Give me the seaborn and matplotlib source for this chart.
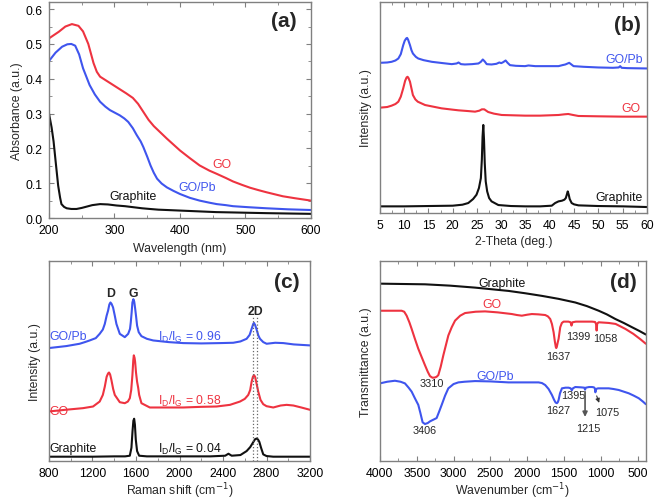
import numpy as np
import pandas as pd
import seaborn as sns
import matplotlib.pyplot as plt
from matplotlib.ticker import MultipleLocator

RED = '#ee3340'
BLUE = '#3f55ee'
BLACK = '#111111'

# (a) UV-vis absorbance
uv_go_x = [200, 215, 225, 235, 245, 252, 260, 268, 273, 278, 288, 298, 308, 318, 328, 336, 344, 352, 360, 370, 380, 390, 400, 415, 430, 445, 456, 470, 481, 495, 507, 520, 532, 545, 557, 575, 600]
uv_go_y = [0.516, 0.535, 0.550, 0.557, 0.552, 0.536, 0.500, 0.445, 0.420, 0.406, 0.394, 0.382, 0.370, 0.358, 0.345, 0.328, 0.305, 0.282, 0.264, 0.246, 0.228, 0.211, 0.194, 0.172, 0.151, 0.136, 0.127, 0.115, 0.105, 0.095, 0.087, 0.080, 0.074, 0.068, 0.0625, 0.057, 0.050]
uv_gopb_x = [200, 210, 220, 228, 234, 240, 246, 252, 262, 270, 278, 286, 293, 300, 308, 315, 321, 328, 334, 340, 344, 350, 355, 360, 365, 372, 380, 390, 400, 415, 430, 445, 456, 470, 481, 505, 532, 565, 600]
uv_gopb_y = [0.451, 0.475, 0.492, 0.499, 0.500, 0.495, 0.470, 0.430, 0.382, 0.355, 0.334, 0.320, 0.310, 0.303, 0.295, 0.286, 0.276, 0.258, 0.238, 0.220, 0.204, 0.176, 0.151, 0.130, 0.113, 0.099, 0.088, 0.078, 0.069, 0.058, 0.050, 0.044, 0.040, 0.037, 0.034, 0.031, 0.028, 0.025, 0.023]
uv_gr_x = [200, 204, 207, 210, 214, 217, 219, 223, 227, 234, 242, 250, 258, 266, 278, 290, 303, 316, 329, 342, 354, 367, 380, 405, 430, 455, 481, 506, 532, 565, 600]
uv_gr_y = [0.300, 0.260, 0.220, 0.165, 0.093, 0.058, 0.040, 0.032, 0.028, 0.026, 0.026, 0.029, 0.033, 0.037, 0.040, 0.039, 0.036, 0.034, 0.031, 0.028, 0.026, 0.024, 0.023, 0.021, 0.019, 0.017, 0.016, 0.015, 0.014, 0.013, 0.012]

# (b) XRD patterns
xrd_gr_x = [5, 10, 15, 20, 22, 23.2, 24.2, 24.9, 25.4, 25.8, 26.0, 26.15, 26.3, 26.45, 26.6, 26.8, 27.1, 27.5, 28.0, 29.4, 32, 35, 38, 40.4, 41.1, 41.8, 42.5, 43.0, 43.3, 43.5, 43.7, 43.9, 44.1, 44.5, 45.0, 45.9, 50, 55, 60]
xrd_gr_y = [20, 20, 21, 22, 25, 30, 42, 55, 75, 105, 160, 230, 265, 220, 150, 95, 65, 45, 35, 24, 21, 20, 20, 22, 30, 35, 37, 40, 45, 55, 65, 55, 42, 30, 26, 23, 21, 20, 18]
xrd_go_x = [5, 6.5, 7.4, 8.2, 8.8, 9.3, 9.8, 10.2, 10.5, 10.7, 10.9, 11.2, 11.5, 11.8, 12.3, 12.8, 14.3, 16, 17.7, 20, 21.2, 23, 24.6, 25.5, 26.0, 26.5, 27.3, 28.5, 30.1, 34.9, 38, 41.8, 43.0, 43.8, 44.8, 45.9, 50, 55, 60]
xrd_go_y = [317, 319, 323, 328, 335, 350, 375, 398, 408, 410, 406, 395, 375, 355, 342, 335, 325, 320, 315, 311, 309, 307, 305, 308, 312, 312, 304, 299, 295, 293, 293, 295, 297, 298, 295, 292, 291, 290, 290]
xrd_gopb_x = [5, 6.5, 7.4, 8.2, 8.8, 9.3, 9.8, 10.1, 10.4, 10.6, 10.8, 11.2, 11.5, 11.8, 12.4, 12.9, 14, 15.7, 18, 19.8, 20.8, 21.2, 21.7, 22.5, 24, 25.3, 25.8, 26.2, 26.6, 27.0, 28, 29.0, 29.6, 30.0, 30.4, 30.9, 31.3, 31.8, 33, 34.9, 35.6, 37, 40, 41.8, 42.6, 43.2, 44.0, 44.9, 47, 50, 53, 54.2, 54.5, 54.8, 56, 60]
xrd_gopb_y = [452, 453, 455, 459, 465, 478, 505, 518, 525, 527, 522, 505, 490, 480, 470, 465, 460, 455, 451, 448, 450, 453, 448, 447, 448, 450, 455, 462, 456, 448, 447, 449, 453, 451, 454, 459, 452, 445, 443, 442, 444, 442, 442, 442, 445, 447, 452, 442, 440, 438, 437, 438, 442, 437, 436, 435]

# (c) Raman spectra
ram_gr_x = [800, 1000, 1200, 1400, 1500, 1543, 1558, 1568, 1576, 1583, 1590, 1598, 1610, 1629, 1700, 2000, 2285, 2420, 2450, 2480, 2560, 2617, 2650, 2678, 2695, 2709, 2722, 2734, 2750, 2770, 2800, 2862, 3000, 3200]
ram_gr_y = [13, 13, 13, 14, 14, 16, 40, 90, 122, 128, 110, 65, 30, 16, 14, 14, 14, 16, 22, 16, 18, 30, 42, 57, 66, 68, 65, 58, 40, 20, 15, 13, 13, 13]
ram_go_x = [800, 950, 1113, 1205, 1266, 1295, 1313, 1330, 1343, 1352, 1362, 1374, 1390, 1405, 1451, 1497, 1525, 1543, 1556, 1567, 1575, 1580, 1587, 1592, 1600, 1610, 1620, 1629, 1650, 1727, 1900, 2034, 2200, 2341, 2464, 2556, 2600, 2632, 2650, 2663, 2675, 2685, 2695, 2705, 2724, 2745, 2770, 2800, 2862, 2930, 2985, 3047, 3120, 3200]
ram_go_y = [150, 155, 160, 165, 180, 200, 225, 255, 265, 268, 262, 245, 218, 200, 178, 175, 180, 190, 215, 260, 305, 320, 312, 300, 268, 240, 222, 200, 175, 162, 162, 162, 164, 165, 170, 180, 188, 200, 215, 240, 255, 260, 255, 240, 210, 185, 172, 166, 162, 168, 170, 168, 162, 155]
ram_gopb_x = [800, 960, 1082, 1130, 1174, 1230, 1266, 1295, 1313, 1330, 1343, 1355, 1365, 1375, 1389, 1405, 1420, 1451, 1497, 1528, 1545, 1552, 1560, 1567, 1576, 1584, 1592, 1600, 1610, 1625, 1650, 1700, 1758, 1900, 2034, 2200, 2372, 2494, 2560, 2617, 2645, 2663, 2678, 2685, 2695, 2709, 2725, 2740, 2770, 2801, 2880, 2955, 3050, 3200]
ram_gopb_y = [342, 348, 355, 360, 365, 372, 385, 398, 415, 440, 455, 474, 480, 476, 465, 440, 415, 385, 375, 385, 400, 420, 450, 480, 490, 482, 462, 440, 410, 390, 378, 370, 365, 360, 357, 356, 357, 358, 362, 370, 382, 400, 415, 418, 412, 398, 380, 370, 360, 355, 358, 357, 353, 350]

# (d) FTIR spectra
ir_gr_x = [4000, 3700, 3388, 3050, 2708, 2480, 2254, 2030, 1801, 1575, 1348, 1190, 1030, 920, 804, 690, 577, 480, 390]
ir_gr_y = [537, 536, 535, 531, 525, 520, 515, 508, 500, 491, 480, 469, 455, 444, 430, 418, 405, 394, 383]
ir_go_x = [4000, 3850, 3705, 3670, 3637, 3600, 3569, 3525, 3479, 3430, 3388, 3350, 3320, 3285, 3252, 3230, 3207, 3175, 3139, 3105, 3071, 3025, 2980, 2910, 2844, 2700, 2572, 2400, 2209, 2140, 2073, 2000, 1937, 1850, 1756, 1720, 1688, 1665, 1642, 1625, 1612, 1606, 1598, 1585, 1574, 1552, 1530, 1506, 1440, 1412, 1399, 1386, 1340, 1200, 1121, 1080, 1066, 1058, 1050, 1030, 960, 894, 800, 668, 560, 460, 390]
ir_go_y = [455, 455, 455, 452, 440, 420, 400, 370, 340, 313, 290, 270, 257, 252, 253, 255, 260, 285, 320, 350, 380, 405, 425, 440, 448, 452, 453, 450, 445, 442, 440, 443, 445, 444, 442, 438, 430, 415, 390, 362, 345, 342, 346, 360, 370, 405, 418, 422, 422, 420, 410, 420, 422, 422, 422, 421, 415, 395, 416, 420, 419, 418, 415, 400, 385, 368, 355]
ir_gopb_x = [4000, 3900, 3796, 3720, 3660, 3610, 3569, 3525, 3479, 3450, 3420, 3388, 3350, 3320, 3275, 3230, 3195, 3161, 3115, 3071, 3000, 2935, 2850, 2708, 2500, 2254, 2050, 1846, 1800, 1756, 1710, 1665, 1635, 1615, 1597, 1585, 1574, 1555, 1529, 1480, 1438, 1410, 1395, 1380, 1348, 1270, 1225, 1215, 1205, 1160, 1121, 1095, 1082, 1075, 1066, 1039, 960, 894, 830, 758, 690, 622, 555, 486, 430, 390]
ir_gopb_y = [235, 240, 243, 240, 235, 222, 210, 190, 170, 145, 117, 112, 115, 120, 125, 130, 150, 170, 198, 220, 233, 238, 240, 242, 241, 238, 238, 238, 236, 230, 218, 200, 185, 177, 175, 178, 185, 205, 220, 222, 222, 220, 214, 220, 224, 223, 222, 216, 222, 224, 224, 223, 220, 208, 218, 220, 220, 220, 218, 215, 210, 205, 198, 190, 180, 172]

sns.set_style("ticks")
plt.rcParams['font.family'] = ['Liberation Sans', 'DejaVu Sans']
plt.rcParams['axes.edgecolor'] = '#808080'
plt.rcParams['axes.linewidth'] = 1.0
plt.rcParams['xtick.color'] = '#808080'
plt.rcParams['ytick.color'] = '#808080'
plt.rcParams['xtick.labelcolor'] = 'black'
plt.rcParams['ytick.labelcolor'] = 'black'

fig = plt.figure(figsize=(6.55, 5.02), dpi=100)
ax_a = fig.add_axes([0.0748, 0.5637, 0.400, 0.430])
ax_b = fig.add_axes([0.580, 0.5737, 0.4076, 0.4203])
ax_c = fig.add_axes([0.0748, 0.0797, 0.3985, 0.398])
ax_d = fig.add_axes([0.580, 0.0797, 0.406, 0.398])

FS = 8.8
LW = 1.5

def draw(ax, x, y, color):
    sns.lineplot(x=x, y=y, ax=ax, color=color, lw=LW, estimator=None, sort=True)

def style(ax, major, minor, labels_y=True, pad=4.5):
    ax.tick_params(which='both', direction='in', top=True, right=True, labelsize=FS)
    ax.tick_params(which='major', length=3.5, width=0.8, pad=pad)
    ax.tick_params(which='minor', length=2, width=0.6)
    ax.xaxis.set_major_locator(MultipleLocator(major))
    ax.xaxis.set_minor_locator(MultipleLocator(minor))
    for s in ax.spines.values():
        s.set_visible(True)
    if not labels_y:
        ax.set_yticks([])

# (a)
draw(ax_a, uv_go_x, uv_go_y, RED)
draw(ax_a, uv_gopb_x, uv_gopb_y, BLUE)
draw(ax_a, uv_gr_x, uv_gr_y, BLACK)
ax_a.set_xlim(200, 600)
ax_a.set_ylim(0, 0.62)
style(ax_a, 100, 50)
ax_a.yaxis.set_major_locator(MultipleLocator(0.1))
ax_a.yaxis.set_minor_locator(MultipleLocator(0.05))
ax_a.set_yticklabels([f'{v:.1f}' for v in ax_a.get_yticks()])
ax_a.set_xlabel('Wavelength (nm)', fontsize=FS, labelpad=4)
ax_a.set_ylabel('Absorbance (a.u.)', fontsize=FS, labelpad=2)
ax_a.text(464, 0.156, 'GO', color=RED, fontsize=FS, ha='center', va='center')
ax_a.text(426, 0.088, 'GO/Pb', color=BLUE, fontsize=FS, ha='center', va='center')
ax_a.text(329, 0.064, 'Graphite', color=BLACK, fontsize=FS, ha='center', va='center')
ax_a.text(558, 0.566, '(a)', fontsize=15, fontweight='bold', ha='center', va='center')

# (b)
draw(ax_b, xrd_gopb_x, xrd_gopb_y, BLUE)
draw(ax_b, xrd_go_x, xrd_go_y, RED)
draw(ax_b, xrd_gr_x, xrd_gr_y, BLACK)
ax_b.set_xlim(5, 60)
ax_b.set_ylim(0, 635)
style(ax_b, 5, 2.5, labels_y=False)
ax_b.set_xlabel('2-Theta (deg.)', fontsize=FS, labelpad=3)
ax_b.set_ylabel('Intensity (a.u.)', fontsize=FS, labelpad=6)
ax_b.text(55.4, 462, 'GO/Pb', color=BLUE, fontsize=FS, ha='center', va='center')
ax_b.text(56.8, 317, 'GO', color=RED, fontsize=FS, ha='center', va='center')
ax_b.text(54.2, 48, 'Graphite', color=BLACK, fontsize=FS, ha='center', va='center')
ax_b.text(56.0, 568, '(b)', fontsize=15, fontweight='bold', ha='center', va='center')

# (c)
draw(ax_c, ram_gopb_x, ram_gopb_y, BLUE)
draw(ax_c, ram_go_x, ram_go_y, RED)
draw(ax_c, ram_gr_x, ram_gr_y, BLACK)
for xv in [2678, 2709]:
    ax_c.plot([xv, xv], [0, 440], ls=':', color='#666666', lw=0.9)
ax_c.set_xlim(800, 3200)
ax_c.set_ylim(0, 605)
style(ax_c, 400, 200, labels_y=False, pad=4)
ax_c.set_xlabel('Raman shift (cm$^{-1}$)', fontsize=FS, labelpad=1)
ax_c.set_ylabel('Intensity (a.u.)', fontsize=FS, labelpad=6)
ax_c.text(1368, 508, 'D', fontsize=FS, fontweight='bold', ha='center', va='center')
ax_c.text(1573, 510, 'G', fontsize=FS, fontweight='bold', ha='center', va='center')
ax_c.text(2694, 455, '2D', fontsize=FS, fontweight='bold', ha='center', va='center')
ax_c.text(808, 378, 'GO/Pb', color=BLUE, fontsize=FS, ha='left', va='center')
ax_c.text(808, 152, 'GO', color=RED, fontsize=FS, ha='left', va='center')
ax_c.text(808, 40, 'Graphite', color=BLACK, fontsize=FS, ha='left', va='center')
ax_c.text(1804, 376, r'$\mathregular{I_D/I_G}$ = 0.96', color=BLUE, fontsize=FS, ha='left', va='center')
ax_c.text(1804, 184, r'$\mathregular{I_D/I_G}$ = 0.58', color=RED, fontsize=FS, ha='left', va='center')
ax_c.text(1804, 38, r'$\mathregular{I_D/I_G}$ = 0.04', color=BLACK, fontsize=FS, ha='left', va='center')
ax_c.text(2985, 545, '(c)', fontsize=15, fontweight='bold', ha='center', va='center')

# (d)
draw(ax_d, ir_gr_x, ir_gr_y, BLACK)
draw(ax_d, ir_go_x, ir_go_y, RED)
draw(ax_d, ir_gopb_x, ir_gopb_y, BLUE)
ax_d.set_xlim(4000, 390)
ax_d.set_ylim(0, 605)
style(ax_d, 500, 250, labels_y=False, pad=4)
ax_d.set_xlabel('Wavenumber (cm$^{-1}$)', fontsize=FS, labelpad=1)
ax_d.set_ylabel('Transmittance (a.u.)', fontsize=FS, labelpad=6)
ax_d.text(2345, 540, 'Graphite', color=BLACK, fontsize=FS, ha='center', va='center')
ax_d.text(2481, 475, 'GO', color=RED, fontsize=FS, ha='center', va='center')
ax_d.text(2436, 258, 'GO/Pb', color=BLUE, fontsize=FS, ha='center', va='center')
peaks = [(3297, 235, '3310'), (1584, 318, '1637'), (1302, 378, '1399'), (940, 372, '1058'),
         (3388, 95, '3406'), (1574, 155, '1627'), (1370, 200, '1395'), (1166, 100, '1215'), (917, 148, '1075')]
for xv, yv, t in peaks:
    ax_d.text(xv, yv, t, fontsize=7.8, ha='center', va='center')
ax_d.annotate('', xy=(1215, 125), xytext=(1215, 218),
              arrowprops=dict(arrowstyle='-|>', color='#555555', lw=1.2, mutation_scale=7))
ax_d.annotate('', xy=(1010, 168), xytext=(1070, 205),
              arrowprops=dict(arrowstyle='-|>', color='#333333', lw=0.8, mutation_scale=6))
ax_d.text(690, 543, '(d)', fontsize=15, fontweight='bold', ha='center', va='center')

fig.savefig('out.png', dpi=100)
